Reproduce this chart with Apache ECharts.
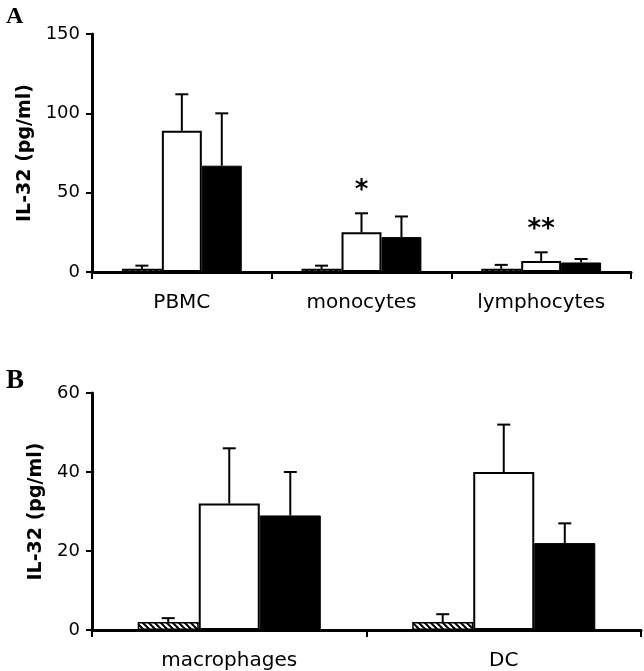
<!DOCTYPE html>
<html><head><meta charset="utf-8">
<script src="https://cdn.jsdelivr.net/npm/echarts@6/dist/echarts.min.js"></script>
<style>html,body{margin:0;padding:0;background:#fff}#c{width:644px;height:671px}</style>
</head><body><div id="c"></div>
<script>
// ---- Panel A data ----
const categoriesA = ['PBMC', 'monocytes', 'lymphocytes'];
const hatchedA = [2, 2, 2];
const hatchedSdA = [2, 2, 2.5];
const whiteA = [89, 25, 7];
const whiteSdA = [23, 12, 5.4];
const blackA = [67, 22, 6];
const blackSdA = [33, 13, 2.2];
const sigA = ['', '*', '**'];
const yTicksA = [0, 50, 100, 150];
// ---- Panel B data ----
const categoriesB = ['macrophages', 'DC'];
const hatchedB = [2, 2];
const hatchedSdB = [1, 2];
const whiteB = [32, 40];
const whiteSdB = [14, 12];
const blackB = [29, 22];
const blackSdB = [11, 5];
const sigB = ['', ''];
const yTicksB = [0, 20, 40, 60];

const GAP = 0.333;
const FONT = 'DejaVu Sans, Verdana, sans-serif';

function hatch() {
  const c = document.createElement('canvas');
  c.width = 6; c.height = 6;
  const g = c.getContext('2d');
  g.fillStyle = '#fff'; g.fillRect(0, 0, 6, 6);
  g.strokeStyle = '#000'; g.lineWidth = 2;
  g.beginPath();
  g.moveTo(-1, -1); g.lineTo(7, 7);
  g.moveTo(-1, 5); g.lineTo(1, 7);
  g.moveTo(5, -1); g.lineTo(7, 1);
  g.stroke();
  return c;
}
const hatchFill = { image: hatch(), repeat: 'repeat' };

function errData(means, sds, barIdx) {
  return means.map((m, i) => [i, m, sds[i], barIdx]);
}

function makeRender(sigs) {
  return function (params, api) {
    const ci = api.value(0), m = api.value(1), sd = api.value(2), bi = api.value(3);
    const band = api.size([1, 0])[0];
    const bw = band * (1 - GAP) / 3;
    const base = api.coord([ci, m]);
    const top = api.coord([ci, m + sd]);
    const x = base[0] + (bi - 1) * bw;
    const children = [
      { type: 'line', shape: { x1: x, y1: base[1], x2: x, y2: top[1] }, style: { stroke: '#000', lineWidth: 2 } },
      { type: 'line', shape: { x1: x - 6.5, y1: top[1], x2: x + 6.5, y2: top[1] }, style: { stroke: '#000', lineWidth: 2 } }
    ];
    if (bi === 1 && sigs[ci]) {
      children.push({ type: 'text', style: { text: sigs[ci], x: x, y: top[1] - 22, align: 'center', verticalAlign: 'middle', font: 'bold 26px ' + FONT, fill: '#000' } });
    }
    return { type: 'group', children: children };
  };
}

function barSeries(data, xi, kind) {
  const style = kind === 'h' ? { color: hatchFill, borderColor: '#000', borderWidth: 1.5 }
    : kind === 'w' ? { color: '#fff', borderColor: '#000', borderWidth: 2 }
    : { color: '#000', borderColor: '#000', borderWidth: 1 };
  return {
    type: 'bar', xAxisIndex: xi, yAxisIndex: xi, data: data, barGap: '0%', barCategoryGap: (GAP * 100) + '%',
    itemStyle: style, silent: true, animation: false
  };
}

function yAxis(gi, ticks, nameGap) {
  return {
    gridIndex: gi, type: 'value', min: ticks[0], max: ticks[ticks.length - 1], interval: ticks[1] - ticks[0],
    name: 'IL-32 (pg/ml)', nameLocation: 'middle', nameGap: nameGap, nameRotate: 90,
    nameTextStyle: { fontFamily: FONT, fontWeight: 'bold', fontSize: 19, color: '#000' },
    axisLine: { show: true, lineStyle: { color: '#000', width: 3 } },
    axisTick: { show: true, inside: false, length: 6, lineStyle: { color: '#000', width: 2 } },
    axisLabel: { fontFamily: FONT, fontSize: 18, color: '#000', margin: 12 },
    splitLine: { show: false }
  };
}
function xAxis(gi, cats) {
  return {
    gridIndex: gi, type: 'category', data: cats, boundaryGap: true,
    axisLine: { show: true, lineStyle: { color: '#000', width: 3 } },
    axisTick: { show: true, inside: false, length: 7, alignWithLabel: false, lineStyle: { color: '#000', width: 2 } },
    axisLabel: { fontFamily: FONT, fontSize: 20, color: '#000', margin: 21, interval: 0 },
    splitLine: { show: false }
  };
}

const chart = echarts.init(document.getElementById('c'), null, { renderer: 'canvas' });
chart.setOption({
  animation: false,
  backgroundColor: '#fff',
  title: [
    { text: 'A', left: 1, top: 0, textStyle: { fontFamily: 'Liberation Serif, Times New Roman, serif', fontWeight: 'bold', fontSize: 24, color: '#000' } },
    { text: 'B', left: 1, top: 363, textStyle: { fontFamily: 'Liberation Serif, Times New Roman, serif', fontWeight: 'bold', fontSize: 27, color: '#000' } }
  ],
  grid: [
    { left: 92, right: 13, top: 34, bottom: 399, containLabel: false, outerBoundsMode: 'none' },
    { left: 92, right: 3, top: 393, bottom: 41, containLabel: false, outerBoundsMode: 'none' }
  ],
  xAxis: [xAxis(0, categoriesA), xAxis(1, categoriesB)],
  yAxis: [yAxis(0, yTicksA, 57), yAxis(1, yTicksB, 46)],
  series: [
    barSeries(hatchedA, 0, 'h'), barSeries(whiteA, 0, 'w'), barSeries(blackA, 0, 'b'),
    barSeries(hatchedB, 1, 'h'), barSeries(whiteB, 1, 'w'), barSeries(blackB, 1, 'b'),
    {
      type: 'custom', xAxisIndex: 0, yAxisIndex: 0, z: 5, silent: true, renderItem: makeRender(sigA),
      data: [].concat(errData(hatchedA, hatchedSdA, 0), errData(whiteA, whiteSdA, 1), errData(blackA, blackSdA, 2))
    },
    {
      type: 'custom', xAxisIndex: 1, yAxisIndex: 1, z: 5, silent: true, renderItem: makeRender(sigB),
      data: [].concat(errData(hatchedB, hatchedSdB, 0), errData(whiteB, whiteSdB, 1), errData(blackB, blackSdB, 2))
    }
  ]
});
</script></body></html>
